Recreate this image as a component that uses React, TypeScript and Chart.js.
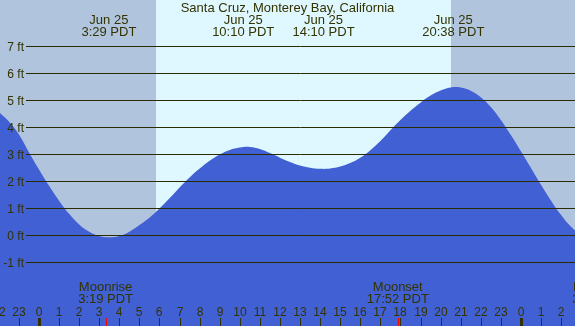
import React, { useEffect, useRef } from "react";
import { Chart, registerables } from "chart.js";

Chart.register(...registerables);

// Tide heights (ft) every half hour, hours relative to midnight Jun 25
const hours = [-2, -1.5, -1, -0.5, 0, 0.5, 1, 1.5, 2, 2.5, 3, 3.5, 4, 4.5, 5, 5.5, 6, 6.5, 7, 7.5, 8, 8.5, 9, 9.5, 10, 10.5, 11, 11.5, 12, 12.5, 13, 13.5, 14, 14.5, 15, 15.5, 16, 16.5, 17, 17.5, 18, 18.5, 19, 19.5, 20, 20.5, 21, 21.5, 22, 22.5, 23, 23.5, 24, 24.5, 25, 25.5, 26, 26.5, 27];
const tideFt = [4.6, 4.24, 3.76, 3.1, 2.46, 1.86, 1.31, 0.82, 0.43, 0.16, 0.0, -0.05, 0.0, 0.16, 0.41, 0.68, 1.02, 1.4, 1.8, 2.17, 2.5, 2.79, 3.02, 3.19, 3.28, 3.3, 3.22, 3.07, 2.9, 2.74, 2.61, 2.53, 2.49, 2.5, 2.57, 2.7, 2.9, 3.18, 3.52, 3.92, 4.3, 4.64, 4.94, 5.2, 5.39, 5.5, 5.5, 5.38, 5.14, 4.78, 4.3, 3.74, 3.14, 2.52, 1.9, 1.31, 0.78, 0.34, 0.02];

// High / low tide events
const eventHours = [3.48, 10.17, 14.17, 20.63];
const eventDates = ["Jun 25", "Jun 25", "Jun 25", "Jun 25"];
const eventTimes = ["3:29 PDT", "10:10 PDT", "14:10 PDT", "20:38 PDT"];

// Sun
const sunriseHour = 5.83;
const sunsetHour = 20.52;

// Moon
const moonHours = [3.317, 17.867, 27.92];
const moonNames = ["Moonrise", "Moonset", "Moonrise"];
const moonTimes = ["3:19 PDT", "17:52 PDT", "3:55 PDT"];

// Axes
const yTicks = [-1, 0, 1, 2, 3, 4, 5, 6, 7];
const hourTicks = [-2, -1, 0, 1, 2, 3, 4, 5, 6, 7, 8, 9, 10, 11, 12, 13, 14, 15, 16, 17, 18, 19, 20, 21, 22, 23, 24, 25, 26, 27];
const xMin = -1.942;
const xMax = 26.693;
const yMin = -3.333;
const yMax = 8.741;

const title = "Santa Cruz, Monterey Bay, California";

const TEXT = "#333300";
const LINE = "#2b2b00";
const FONT = "Liberation Sans, Arial, sans-serif";

const decorPlugin = {
  id: "tideDecor",
  beforeDatasetsDraw(chart: any) {
    const { ctx, chartArea, scales } = chart;
    const xs = scales.x;
    ctx.save();
    ctx.fillStyle = "#b0c4de";
    ctx.fillRect(chartArea.left, chartArea.top, chartArea.right - chartArea.left, chartArea.bottom - chartArea.top);
    const x1 = Math.round(xs.getPixelForValue(sunriseHour));
    const x2 = Math.round(xs.getPixelForValue(sunsetHour));
    ctx.fillStyle = "#dff7ff";
    ctx.fillRect(x1, chartArea.top, x2 - x1, chartArea.bottom - chartArea.top);
    ctx.restore();
  },
  afterDatasetsDraw(chart: any) {
    const { ctx, chartArea, scales } = chart;
    const xs = scales.x;
    const ys = scales.y;
    ctx.save();
    // grid lines and y labels
    ctx.font = `12px ${FONT}`;
    ctx.textAlign = "right";
    ctx.textBaseline = "middle";
    for (const v of yTicks) {
      const y = Math.round(ys.getPixelForValue(v)) - 0.5;
      ctx.strokeStyle = LINE;
      ctx.lineWidth = 1;
      ctx.beginPath();
      ctx.moveTo(26, y);
      ctx.lineTo(chartArea.right, y);
      ctx.stroke();
      ctx.fillStyle = TEXT;
      ctx.fillText(`${v} ft`, 24, y + 1);
    }
    // title
    ctx.textAlign = "center";
    ctx.textBaseline = "alphabetic";
    ctx.font = `13px ${FONT}`;
    ctx.fillStyle = TEXT;
    ctx.fillText(title, (chartArea.left + chartArea.right) / 2, 12);
    // tide events
    eventHours.forEach((h, i) => {
      const x = xs.getPixelForValue(h);
      ctx.fillText(eventDates[i], x, 24);
      ctx.fillText(eventTimes[i], x, 36);
    });
    // moon labels
    moonHours.forEach((h, i) => {
      const x = xs.getPixelForValue(h);
      ctx.fillStyle = TEXT;
      ctx.fillText(moonNames[i], x, 291);
      ctx.fillText(moonTimes[i], x, 303);
      ctx.fillStyle = "#ff0000";
      ctx.fillRect(Math.round(x), 318, 1, 8);
    });
    // hour labels and ticks
    ctx.font = `12px ${FONT}`;
    hourTicks.forEach((h) => {
      const x = Math.round(xs.getPixelForValue(h));
      const lab = ((h % 24) + 24) % 24;
      ctx.fillStyle = TEXT;
      ctx.fillText(String(lab), x, 316);
      if (lab === 0) {
        ctx.fillRect(x - 1, 318, 3, 8);
      } else {
        ctx.fillRect(x, 318, 1, 8);
      }
    });
    ctx.restore();
  },
};

export default function App() {
  const ref = useRef<HTMLCanvasElement | null>(null);
  useEffect(() => {
    document.body.style.margin = "0";
    const canvas = ref.current;
    if (!canvas) return;
    const chart = new Chart(canvas, {
      type: "line",
      data: {
        datasets: [
          {
            data: hours.map((h, i) => ({ x: h, y: tideFt[i] })),
            borderWidth: 0,
            borderColor: "rgba(0,0,0,0)",
            backgroundColor: "#4060d4",
            fill: "start",
            pointRadius: 0,
            tension: 0.4,
          },
        ],
      },
      options: {
        animation: false,
        responsive: false,
        maintainAspectRatio: false,
        layout: { padding: 0 },
        plugins: { legend: { display: false }, tooltip: { enabled: false }, title: { display: false } },
        scales: {
          x: { type: "linear", min: xMin, max: xMax, display: false },
          y: { type: "linear", min: yMin, max: yMax, display: false },
        },
        events: [],
      },
      plugins: [decorPlugin],
    });
    return () => chart.destroy();
  }, []);
  return (
    <div style={{ width: 575, height: 326 }}>
      <canvas ref={ref} width={575} height={326} style={{ display: "block", width: 575, height: 326 }} />
    </div>
  );
}
